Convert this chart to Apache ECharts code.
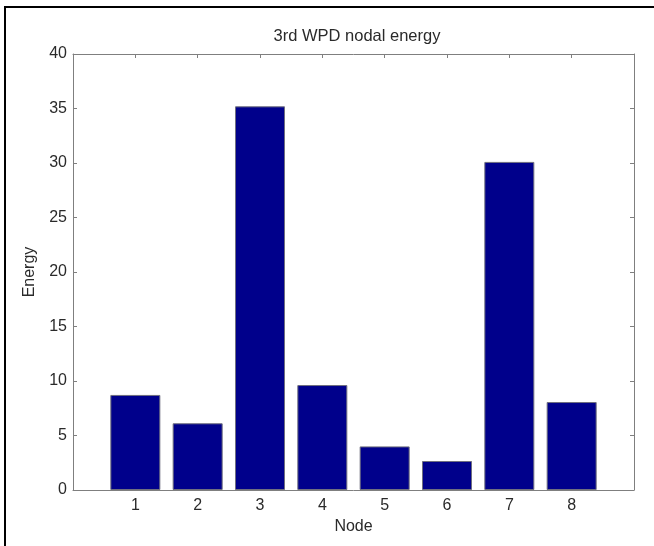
<!DOCTYPE html>
<html>
<head>
<meta charset="utf-8">
<script src="https://cdn.jsdelivr.net/npm/echarts@6/dist/echarts.min.js"></script>
<style>
    body { margin: 0; background: #fff; }
    #chart { position: absolute; left: 0; top: 0; width: 654px; height: 546px; }
    #frame {
        position: absolute; left: 4px; top: 6px; width: 650px; height: 540px;
        border-top: 2px solid #000; border-left: 2px solid #000;
        box-sizing: border-box; pointer-events: none;
    }
</style>
</head>
<body>
<div id="chart"></div>
<div id="frame"></div>
<script>
var nodes = [1, 2, 3, 4, 5, 6, 7, 8];
var energy = [8.72, 6.12, 35.2, 9.63, 4.0, 2.66, 30.1, 8.07];
var yTicks = [0, 5, 10, 15, 20, 25, 30, 35, 40];

(function() {
    drawChart();
})();

function drawChart() {
    var chart = echarts.init(document.getElementById('chart'));

    var data = [];
    for (var i = 0; i < nodes.length; i++) {
        data.push([nodes[i], energy[i]]);
    }

    var font = 'Liberation Sans, Arial, sans-serif';
    var lineColor = '#7f7f7f';
    var textColor = '#2a2a2a';

    function xAxis(pos, showLabel) {
        return {
            type: 'value',
            position: pos,
            min: 0,
            max: 9,
            interval: 1,
            name: showLabel ? 'Node' : '',
            nameLocation: 'middle',
            nameGap: 27,
            nameTextStyle: { color: textColor, fontSize: 16, fontFamily: font },
            splitLine: { show: false },
            axisLine: { show: true, onZero: false, lineStyle: { color: lineColor, width: 1 } },
            axisTick: { show: true, inside: true, length: 4, customValues: nodes,
                lineStyle: { color: lineColor } },
            axisLabel: { show: showLabel, customValues: nodes, margin: 8,
                color: textColor, fontSize: 16, fontFamily: font }
        };
    }

    function yAxis(pos, showLabel) {
        return {
            type: 'value',
            position: pos,
            min: 0,
            max: 40,
            interval: 5,
            name: showLabel ? 'Energy' : '',
            nameLocation: 'middle',
            nameGap: 35,
            nameRotate: 90,
            nameTextStyle: { color: textColor, fontSize: 16, fontFamily: font },
            splitLine: { show: false },
            axisLine: { show: true, onZero: false, lineStyle: { color: lineColor, width: 1 } },
            axisTick: { show: true, inside: true, length: 4, customValues: yTicks,
                lineStyle: { color: lineColor } },
            axisLabel: { show: showLabel, margin: 6,
                color: textColor, fontSize: 16, fontFamily: font }
        };
    }

    var option = {
        animation: false,
        title: {
            text: '3rd WPD nodal energy',
            left: 352,
            textAlign: 'center',
            top: 23,
            textStyle: { color: textColor, fontSize: 16.5, fontWeight: 'normal', fontFamily: font }
        },
        grid: { left: 73, right: 20, top: 54, bottom: 56 },
        xAxis: [xAxis('bottom', true), xAxis('top', false)],
        yAxis: [yAxis('left', true), yAxis('right', false)],
        series: [
            {
                type: 'bar',
                xAxisIndex: 0,
                yAxisIndex: 0,
                barWidth: 50,
                data: data,
                itemStyle: { color: '#00008b', borderColor: '#6f6f7f', borderWidth: 1 }
            }
        ]
    };

    chart.setOption(option);
}
</script>
</body>
</html>
